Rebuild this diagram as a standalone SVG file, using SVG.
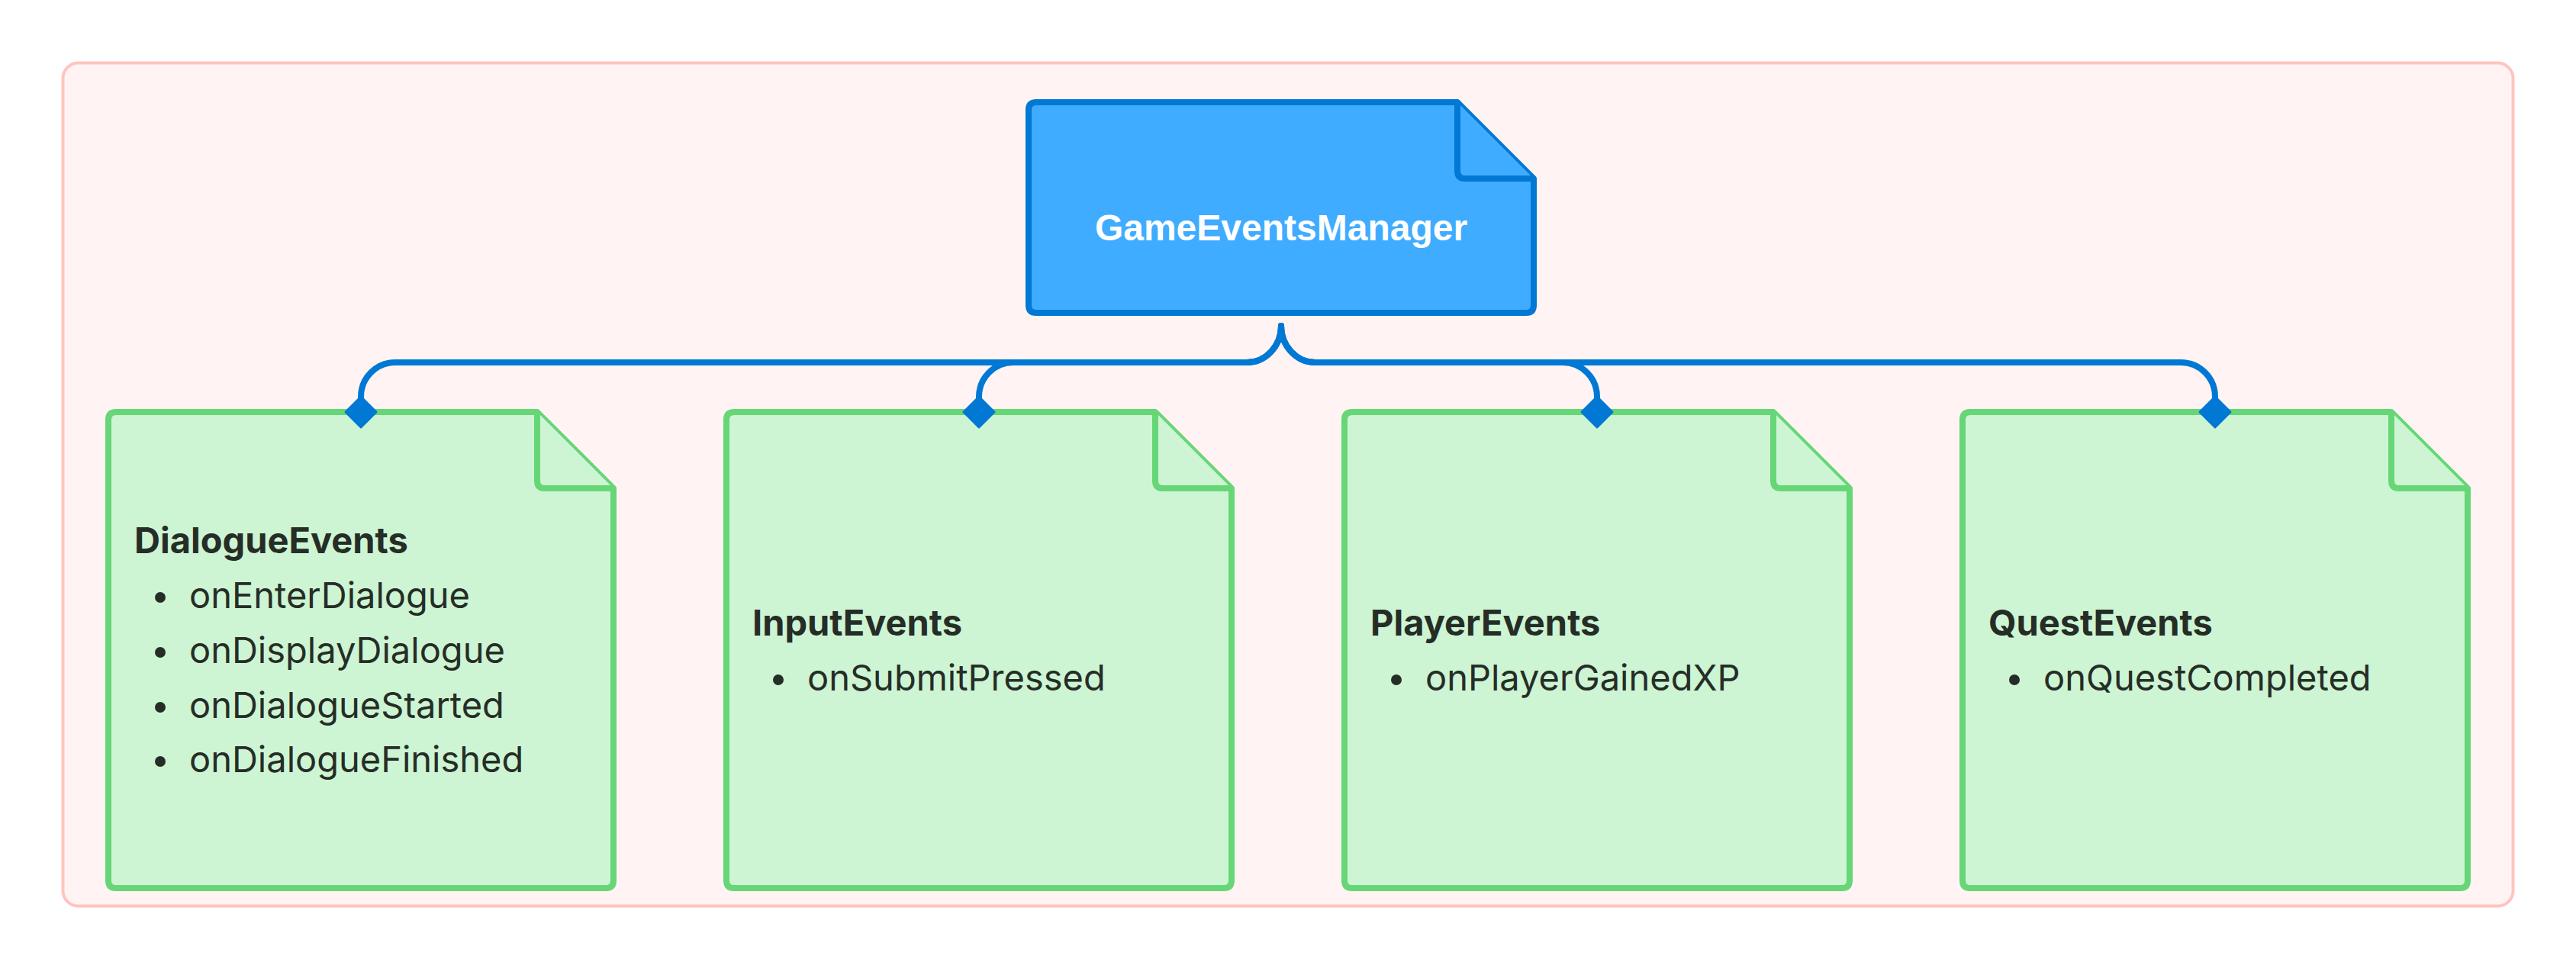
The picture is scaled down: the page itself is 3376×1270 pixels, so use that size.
<svg xmlns="http://www.w3.org/2000/svg" width="3376" height="1270" viewBox="0 0 3376 1270">
  <style>
    .container { fill: #fff4f3; stroke: #ffc4bf; stroke-width: 4; }
    .blue { fill: #40acff; stroke: #0078d4; stroke-width: 8; stroke-linejoin: round; }
    .green { fill: #cdf5d4; stroke: #67d677; stroke-width: 8; stroke-linejoin: round; }
    .title { font-family: "Liberation Sans", Arial, sans-serif; font-weight: bold; font-size: 48px; fill: #ffffff; }
    .head { font-family: Inter, "Noto Sans", sans-serif; font-weight: 700; font-size: 47px; fill: #262d26; }
    .item { font-family: Inter, "Noto Sans", sans-serif; font-weight: 400; font-size: 47px; fill: #262d26; }
    .bullet { fill: #262d26; }
    .conn { fill: none; stroke: #0078d4; stroke-width: 8; stroke-linecap: round; marker-end: url(#diamond); }
  </style>
  <defs>
    <marker id="diamond" markerUnits="userSpaceOnUse" viewBox="-24 -24 48 48" markerWidth="48" markerHeight="48" refX="0" refY="0" orient="auto">
      <path d="M-20,0 L0,-20 L20,0 L0,20 Z" fill="#0078d4" stroke="#0078d4" stroke-width="3" stroke-linejoin="round"/>
    </marker>
  </defs>

  <rect class="container" x="82.5" y="82.5" width="3211" height="1105" rx="20" ry="20"/>

  <g id="GameEventsManager">
    <path class="blue" d="M1358,134 L1910,134 L2010,234 L2010,400 Q2010,410 2000,410 L1358,410 Q1348,410 1348,400 L1348,144 Q1348,134 1358,134 Z"/>
    <path class="blue" d="M1910,134 L1910,224 Q1910,234 1920,234 L2010,234"/>
    <text class="title" x="1679" y="315" text-anchor="middle">GameEventsManager</text>
  </g>

  <g id="DialogueEvents">
    <path class="green" d="M152,540 L704,540 L804,640 L804,1154 Q804,1164 794,1164 L152,1164 Q142,1164 142,1154 L142,550 Q142,540 152,540 Z"/>
    <path class="green" d="M704,540 L704,630 Q704,640 714,640 L804,640"/>
    <text class="head" x="176" y="725">DialogueEvents</text>
    <circle class="bullet" cx="210" cy="783" r="7"/>
    <text class="item" x="248" y="797">onEnterDialogue</text>
    <circle class="bullet" cx="210" cy="855" r="7"/>
    <text class="item" x="248" y="869">onDisplayDialogue</text>
    <circle class="bullet" cx="210" cy="927" r="7"/>
    <text class="item" x="248" y="941">onDialogueStarted</text>
    <circle class="bullet" cx="210" cy="998" r="7"/>
    <text class="item" x="248" y="1012">onDialogueFinished</text>
  </g>

  <g id="InputEvents">
    <path class="green" d="M962,540 L1514,540 L1614,640 L1614,1154 Q1614,1164 1604,1164 L962,1164 Q952,1164 952,1154 L952,550 Q952,540 962,540 Z"/>
    <path class="green" d="M1514,540 L1514,630 Q1514,640 1524,640 L1614,640"/>
    <text class="head" x="986" y="833">InputEvents</text>
    <circle class="bullet" cx="1020" cy="891" r="7"/>
    <text class="item" x="1058" y="905">onSubmitPressed</text>
  </g>

  <g id="PlayerEvents">
    <path class="green" d="M1772,540 L2324,540 L2424,640 L2424,1154 Q2424,1164 2414,1164 L1772,1164 Q1762,1164 1762,1154 L1762,550 Q1762,540 1772,540 Z"/>
    <path class="green" d="M2324,540 L2324,630 Q2324,640 2334,640 L2424,640"/>
    <text class="head" x="1796" y="833">PlayerEvents</text>
    <circle class="bullet" cx="1830" cy="891" r="7"/>
    <text class="item" x="1868" y="905">onPlayerGainedXP</text>
  </g>

  <g id="QuestEvents">
    <path class="green" d="M2582,540 L3134,540 L3234,640 L3234,1154 Q3234,1164 3224,1164 L2582,1164 Q2572,1164 2572,1154 L2572,550 Q2572,540 2582,540 Z"/>
    <path class="green" d="M3134,540 L3134,630 Q3134,640 3144,640 L3234,640"/>
    <text class="head" x="2606" y="833">QuestEvents</text>
    <circle class="bullet" cx="2640" cy="891" r="7"/>
    <text class="item" x="2678" y="905">onQuestCompleted</text>
  </g>

  <g id="connectors">
    <path class="conn" d="M1679,427 A45,48 0 0 1 1634,475 L518,475 A45,45 0 0 0 473,520 L473,540"/>
    <path class="conn" d="M1679,427 A45,48 0 0 1 1634,475 L1328,475 A45,45 0 0 0 1283,520 L1283,540"/>
    <path class="conn" d="M1679,427 A45,48 0 0 0 1724,475 L2048,475 A45,45 0 0 1 2093,520 L2093,540"/>
    <path class="conn" d="M1679,427 A45,48 0 0 0 1724,475 L2858,475 A45,45 0 0 1 2903,520 L2903,540"/>
  </g>
</svg>
